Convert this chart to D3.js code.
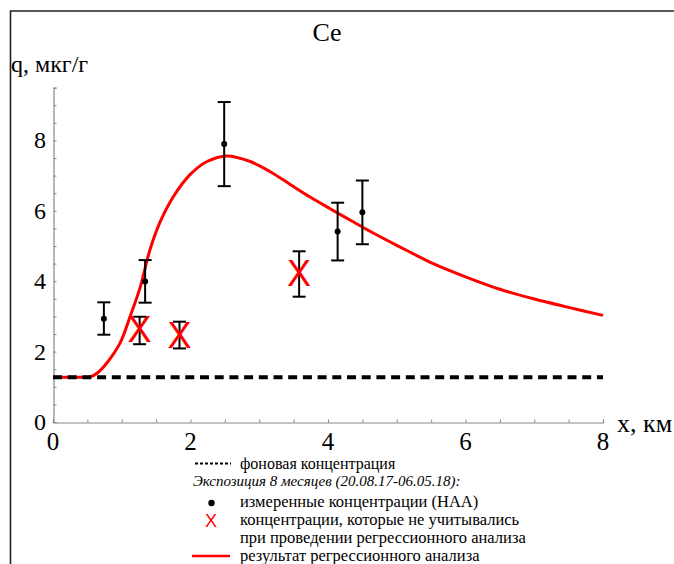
<!DOCTYPE html>
<html><head><meta charset="utf-8">
<script src="https://cdn.jsdelivr.net/npm/d3@7"></script>
<style>body{margin:0;background:#fff}svg{display:block}
.serif{font-family:"Liberation Serif","Times New Roman",Times,"DejaVu Serif",serif}
.sans{font-family:"Liberation Sans",Arial,sans-serif}</style>
</head><body>
<script>
// ---- data ----
const measuredX = [0.74, 1.34, 2.49, 4.14, 4.50];
const measuredY = [2.93, 3.99, 7.90, 5.41, 5.96];
const measuredHi = [3.40, 4.60, 9.09, 6.23, 6.86];
const measuredLo = [2.48, 3.39, 6.70, 4.59, 5.05];

const excludedX = [1.26, 1.84, 3.58];
const excludedY = [2.64, 2.47, 4.24];
const excludedHi = [2.99, 2.85, 4.85];
const excludedLo = [2.21, 2.09, 3.56];

const fitX = [0, 0.3, 0.55, 0.65, 0.78, 0.975, 1.12, 1.27, 1.41, 1.56, 1.75, 1.99, 2.24, 2.53, 2.87, 3.16, 3.45, 3.74, 4.03, 4.32, 4.61, 4.90, 5.19, 5.53, 6.02, 6.50, 6.99, 7.47, 8.0];
const fitY = [1.27, 1.27, 1.29, 1.40, 1.67, 2.24, 2.99, 3.84, 4.89, 5.69, 6.40, 7.02, 7.40, 7.56, 7.40, 7.11, 6.75, 6.39, 6.06, 5.74, 5.42, 5.12, 4.83, 4.50, 4.11, 3.77, 3.50, 3.27, 3.03];

const background = 1.27;
const xTicks = [0, 2, 4, 6, 8];
const yTicks = [0, 2, 4, 6, 8];
const title = "Ce";

const W = 674, H = 564;
const svg = d3.select("body").append("svg").attr("width", W).attr("height", H);

// frame
svg.append("path").attr("d", `M10.5,${H} L10.5,11 L${W},11`).attr("fill", "none")
  .attr("stroke", "#222").attr("stroke-width", 1.6);

const x = d3.scaleLinear().domain([0, 8]).range([53, 603]);
const y = d3.scaleLinear().domain([0, 9.5]).range([422, 87.6]);

// axes
const minorX = d3.range(0, 8.01, 0.5);
const minorY = d3.range(0, 9.51, 0.5);
const xAxis = d3.axisTop(x).tickValues(minorX).tickSize(3).tickFormat("");
const yAxis = d3.axisRight(y).tickValues(minorY).tickSize(3).tickFormat("");
const gx = svg.append("g").attr("transform", "translate(0,422.5)").call(xAxis);
const gy = svg.append("g").attr("transform", "translate(53.5,0)").call(yAxis);
[gx, gy].forEach(g => {
  g.select(".domain").attr("stroke", "#888").attr("stroke-width", 1.2);
  g.selectAll(".tick line").attr("stroke", "#888");
});

svg.append("g").selectAll("text").data(xTicks).join("text").attr("class", "serif")
  .attr("x", d => x(d)).attr("y", 450).attr("text-anchor", "middle")
  .attr("font-size", 25).text(d => d);
svg.append("g").selectAll("text").data(yTicks).join("text").attr("class", "serif")
  .attr("x", 46).attr("y", d => y(d) + 8).attr("text-anchor", "end")
  .attr("font-size", 24).text(d => d);

svg.append("text").attr("class", "serif").attr("x", 11).attr("y", 72).attr("font-size", 24).text("q, мкг/г");
svg.append("text").attr("class", "serif").attr("x", 617).attr("y", 432).attr("font-size", 26).text("x, км");
svg.append("text").attr("class", "serif").attr("x", 327).attr("y", 41).attr("text-anchor", "middle").attr("font-size", 26).text(title);

// fit curve
const fit = fitX.map((v, i) => [v, fitY[i]]);
svg.append("path").datum(fit)
  .attr("d", d3.line().x(d => x(d[0])).y(d => y(d[1])).curve(d3.curveCatmullRom.alpha(0.5)))
  .attr("fill", "none").attr("stroke", "#ff0000").attr("stroke-width", 3);

// background line
svg.append("line").attr("x1", x(0)).attr("x2", x(8)).attr("y1", y(background)).attr("y2", y(background))
  .attr("stroke", "#000").attr("stroke-width", 4).attr("stroke-dasharray", "9,5.7");

// error bars
function errBars(xs, hi, lo) {
  const g = svg.append("g").attr("stroke", "#000").attr("stroke-width", 2);
  xs.forEach((v, i) => {
    const px = x(v);
    g.append("line").attr("x1", px).attr("x2", px).attr("y1", y(hi[i])).attr("y2", y(lo[i]));
    g.append("line").attr("x1", px - 6.5).attr("x2", px + 6.5).attr("y1", y(hi[i])).attr("y2", y(hi[i]));
    g.append("line").attr("x1", px - 6.5).attr("x2", px + 6.5).attr("y1", y(lo[i])).attr("y2", y(lo[i]));
  });
}
errBars(measuredX, measuredHi, measuredLo);
errBars(excludedX, excludedHi, excludedLo);

svg.append("g").selectAll("circle").data(measuredX).join("circle")
  .attr("cx", d => x(d)).attr("cy", (d, i) => y(measuredY[i])).attr("r", 3).attr("fill", "#000");

svg.append("g").selectAll("text").data(excludedX).join("text").attr("class", "sans")
  .attr("x", d => x(d)).attr("y", (d, i) => y(excludedY[i]) + 13).attr("text-anchor", "middle")
  .attr("font-size", 36).attr("fill", "#ff0000").text("X");

// legend
const lg = svg.append("g");
lg.append("line").attr("x1", 195).attr("x2", 231).attr("y1", 463.5).attr("y2", 463.5)
  .attr("stroke", "#000").attr("stroke-width", 2).attr("stroke-dasharray", "3,2");
lg.append("text").attr("class", "serif").attr("x", 240).attr("y", 469).attr("font-size", 16).text("фоновая концентрация");
lg.append("text").attr("class", "serif").attr("x", 193).attr("y", 486).attr("font-size", 15).attr("font-style", "italic")
  .text("Экспозиция 8 месяцев (20.08.17-06.05.18):");
lg.append("circle").attr("cx", 211.5).attr("cy", 503).attr("r", 3.2).attr("fill", "#000");
lg.append("text").attr("class", "serif").attr("x", 240).attr("y", 507).attr("font-size", 16.5).text("измеренные концентрации (НАА)");
lg.append("text").attr("class", "sans").attr("x", 211).attr("y", 527).attr("text-anchor", "middle").attr("font-size", 18)
  .attr("fill", "#ff0000").text("X");
lg.append("text").attr("class", "serif").attr("x", 240).attr("y", 524.5).attr("font-size", 16.5).text("концентрации, которые не учитывались");
lg.append("text").attr("class", "serif").attr("x", 240).attr("y", 542.5).attr("font-size", 16.5).text("при проведении регрессионного анализа");
lg.append("line").attr("x1", 192).attr("x2", 230).attr("y1", 556).attr("y2", 556)
  .attr("stroke", "#ff0000").attr("stroke-width", 2.5);
lg.append("text").attr("class", "serif").attr("x", 240).attr("y", 560.5).attr("font-size", 16.5).text("результат регрессионного анализа");
</script>
</body></html>
